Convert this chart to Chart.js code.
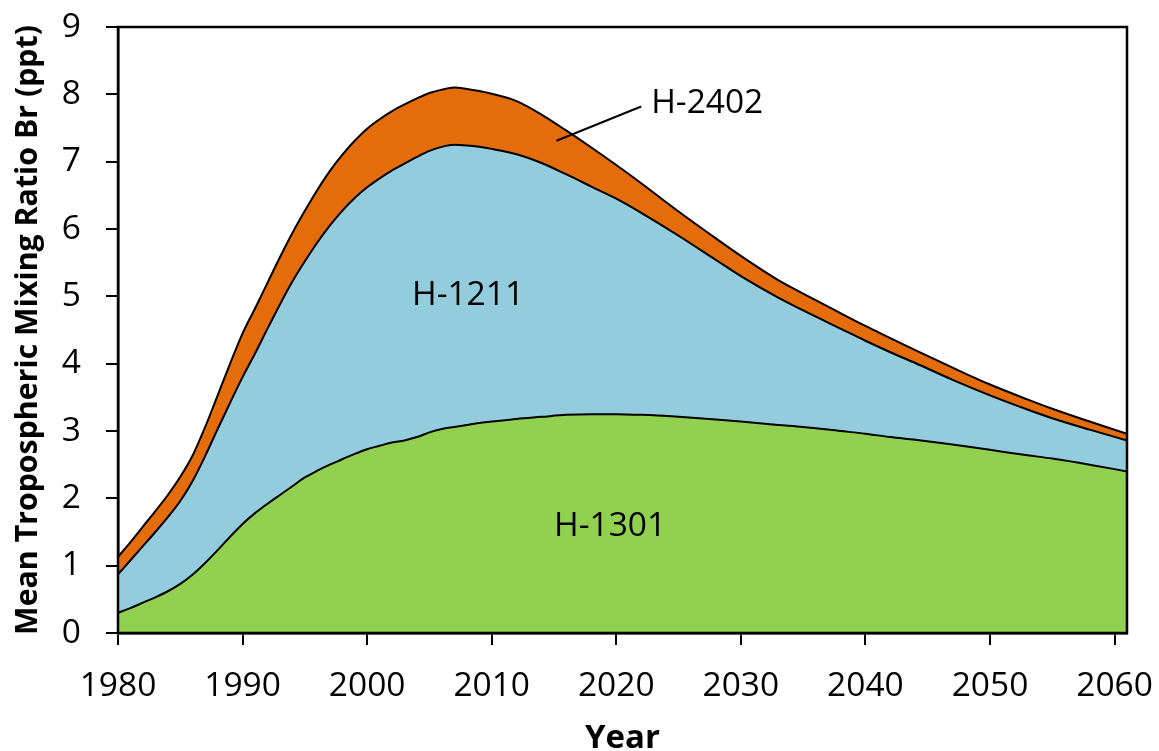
<!DOCTYPE html>
<html>
<head>
<meta charset="utf-8">
<title>Halons - tropospheric Br</title>
<script src="https://cdn.jsdelivr.net/npm/chart.js@4.4.1/dist/chart.umd.min.js"></script>
<style>
  html, body { margin: 0; padding: 0; background: #fff; }
  #chart { display: block; }
</style>
</head>
<body>
<canvas id="chart" width="1159" height="751"></canvas>
<script>
// years of the model run (yearly to 2010, coarser after)
const years = [
  1980, 1981, 1982, 1983, 1984, 1985, 1986, 1987, 1988, 1989,
  1990, 1991, 1992, 1993, 1994, 1995, 1996, 1997, 1998, 1999,
  2000, 2001, 2002, 2003, 2004, 2005, 2006, 2007, 2008, 2009,
  2010, 2012, 2014, 2016, 2018, 2020, 2022, 2025, 2028, 2030,
  2033, 2035, 2038, 2040, 2042, 2044, 2047, 2050, 2053, 2055,
  2058, 2061
];

// bromine from each halon (ppt), stacked bottom to top
const h1301 = [
  0.30, 0.37, 0.45, 0.53, 0.62, 0.73, 0.87, 1.04, 1.23, 1.43,
  1.62, 1.78, 1.92, 2.05, 2.18, 2.31, 2.41, 2.50, 2.58, 2.66,
  2.73, 2.78, 2.83, 2.86, 2.91, 2.98, 3.03, 3.06, 3.09, 3.12,
  3.14, 3.18, 3.21, 3.24, 3.25, 3.25, 3.24, 3.21, 3.17, 3.14,
  3.09, 3.06, 3.00, 2.96, 2.91, 2.87, 2.80, 2.72, 2.64, 2.59,
  2.50, 2.40
];
const h1211 = [
  0.57, 0.71, 0.84, 0.97, 1.10, 1.23, 1.39, 1.59, 1.80, 1.99,
  2.18, 2.37, 2.60, 2.83, 3.04, 3.21, 3.39, 3.55, 3.69, 3.80,
  3.89, 3.97, 4.04, 4.11, 4.16, 4.18, 4.19, 4.19, 4.15, 4.10,
  4.05, 3.93, 3.77, 3.57, 3.38, 3.20, 3.00, 2.69, 2.37, 2.16,
  1.89, 1.73, 1.52, 1.38, 1.26, 1.14, 0.96, 0.81, 0.68, 0.60,
  0.52, 0.46
];
const h2402 = [
  0.26, 0.27, 0.29, 0.31, 0.33, 0.36, 0.38, 0.43, 0.50, 0.58,
  0.65, 0.67, 0.68, 0.70, 0.72, 0.75, 0.78, 0.81, 0.83, 0.85,
  0.87, 0.88, 0.88, 0.88, 0.87, 0.86, 0.85, 0.85, 0.84, 0.83,
  0.82, 0.79, 0.72, 0.65, 0.58, 0.50, 0.44, 0.36, 0.32, 0.30,
  0.26, 0.25, 0.23, 0.22, 0.21, 0.19, 0.18, 0.16, 0.15, 0.14,
  0.12, 0.10
];

const seriesNames = ['H-1301', 'H-1211', 'H-2402'];
const seriesColors = ['#92D050', '#93CDDD', '#E46C0A'];

// labels written on the plot, in data coordinates
const plotLabels = [
  { text: 'H-2402', x: 2022.8, y: 7.90, align: 'left' },
  { text: 'H-1211', x: 2008.1, y: 5.05, align: 'center' },
  { text: 'H-1301', x: 2019.5, y: 1.62, align: 'center' }
];
const leaderLine = [[2015.2, 7.31], [2022.0, 7.82]];

const FONT = "'Open Sans', sans-serif";
const TICK_SIZE = 33.5;

const toPoints = arr => years.map((yr, i) => ({ x: yr, y: arr[i] }));

// the axes keep a fixed size and don't push the plot in for their labels
const fixAxis = (w, h) => s => {
  if (w) s.width = w;
  if (h) s.height = h;
  s.paddingTop = s.paddingBottom = s.paddingLeft = s.paddingRight = 0;
};

// box round the plot + text labels
const decorations = {
  id: 'decorations',
  afterDatasetsDraw(chart) {
    const { ctx, scales } = chart;
    const sx = scales.x, sy = scales.y;
    ctx.save();
    ctx.fillStyle = '#000';
    ctx.font = TICK_SIZE + 'px ' + FONT;
    ctx.textBaseline = 'alphabetic';
    plotLabels.forEach(l => {
      ctx.textAlign = l.align;
      ctx.fillText(l.text, sx.getPixelForValue(l.x), sy.getPixelForValue(l.y) + TICK_SIZE * 0.357);
    });
    ctx.strokeStyle = '#000';
    ctx.lineWidth = 2;
    ctx.beginPath();
    ctx.moveTo(sx.getPixelForValue(leaderLine[0][0]), sy.getPixelForValue(leaderLine[0][1]));
    ctx.lineTo(sx.getPixelForValue(leaderLine[1][0]), sy.getPixelForValue(leaderLine[1][1]));
    ctx.stroke();
    ctx.restore();
  },
  afterDraw(chart) {
    const { ctx, chartArea } = chart;
    ctx.save();
    ctx.strokeStyle = '#000';
    ctx.lineWidth = 2.5;
    ctx.strokeRect(chartArea.left, chartArea.top, chartArea.right - chartArea.left, chartArea.bottom - chartArea.top);
    ctx.restore();
  }
};

new Chart(document.getElementById('chart').getContext('2d'), {
  type: 'line',
  data: {
    datasets: [h1301, h1211, h2402].map((arr, i) => ({
      label: seriesNames[i],
      data: toPoints(arr),
      backgroundColor: seriesColors[i],
      borderColor: '#000',
      borderWidth: 2,
      fill: i === 0 ? 'origin' : '-1',
      pointRadius: 0,
      cubicInterpolationMode: 'monotone'
    }))
  },
  options: {
    responsive: false,
    animation: false,
    layout: { padding: { top: 27, right: 32, left: 0, bottom: 0 } },
    plugins: {
      legend: { display: false },
      tooltip: { enabled: false }
    },
    scales: {
      x: {
        type: 'linear',
        min: 1980,
        max: 2061,
        afterFit: fixAxis(0, 118),
        border: { display: true, color: '#000', width: 2.5 },
        grid: { drawOnChartArea: false, drawTicks: true, tickLength: 12, color: '#000', lineWidth: 2 },
        ticks: {
          stepSize: 10,
          includeBounds: false,
          color: '#000',
          padding: 21,
          maxRotation: 0,
          font: { family: FONT, size: TICK_SIZE },
          callback: v => String(v)
        },
        title: {
          display: true,
          text: 'Year',
          color: '#000',
          padding: 0,
          font: { family: FONT, size: 33, weight: 'bold', lineHeight: 0.75 }
        }
      },
      y: {
        stacked: true,
        min: 0,
        max: 9,
        afterFit: fixAxis(118, 0),
        border: { display: true, color: '#000', width: 2.5 },
        grid: { drawOnChartArea: false, drawTicks: true, tickLength: 12, color: '#000', lineWidth: 2 },
        ticks: {
          stepSize: 1,
          color: '#000',
          padding: 25,
          font: { family: FONT, size: TICK_SIZE }
        },
        title: {
          display: true,
          text: 'Mean Tropospheric Mixing Ratio Br (ppt)',
          color: '#000',
          padding: { top: 10, bottom: 0 },
          font: { family: FONT, size: 30.3, weight: 'bold' }
        }
      }
    }
  },
  plugins: [decorations]
});
</script>
</body>
</html>
